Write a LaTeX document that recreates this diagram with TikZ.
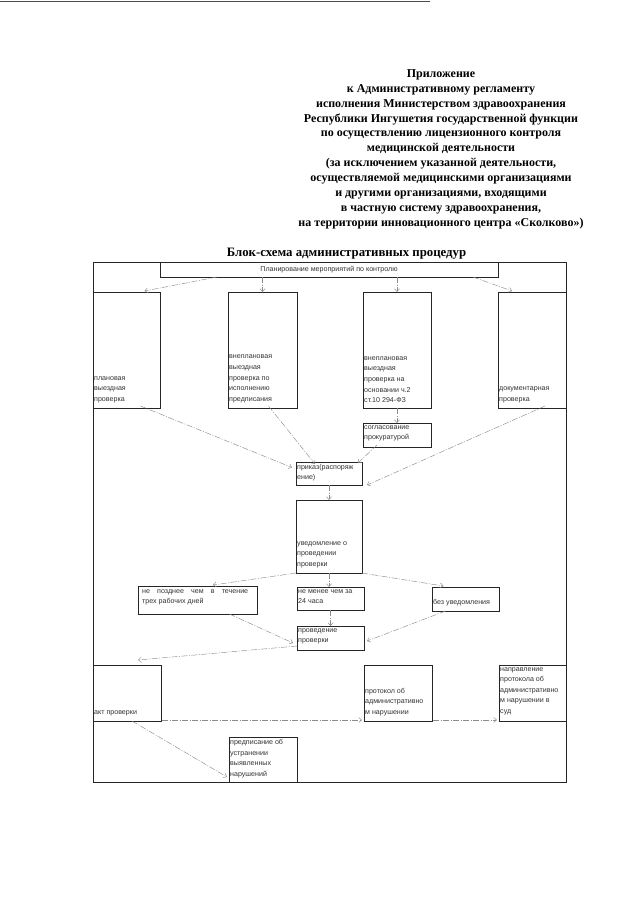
\documentclass[tikz,border=0pt]{standalone}
\usepackage{fontspec}
\setmainfont{Liberation Serif}
\newfontfamily\boxfont{Liberation Sans}
\usetikzlibrary{arrows.meta, calc}

\begin{document}
\begin{tikzpicture}[
  x=1pt, y=-1pt,
  >={Straight Barb[length=3pt, width=5pt]},
  box/.style={draw=black!85, line width=0.6pt, inner sep=0pt, outer sep=0pt},
  btext/.style={font=\boxfont\fontsize{7.1}{10.6}\selectfont, align=left,
    inner sep=1pt, text=black!80},
  flow/.style={->, draw=black!45, line width=0.45pt,
    dash pattern=on 6pt off 1.5pt on 1pt off 1.5pt},
]

% Page
\useasboundingbox (0,0) rectangle (640,905);
\fill[white] (0,0) rectangle (640,905);
\draw[black!70, line width=1pt] (0,1) -- (430,1);

% Title
\node[font=\fontsize{12}{14.9}\selectfont\bfseries, align=center, anchor=north]
  (title) at (441,66)
  {Приложение\\
   к Административному регламенту\\
   исполнения Министерством здравоохранения\\
   Республики Ингушетия государственной функции\\
   по осуществлению лицензионного контроля\\
   медицинской деятельности\\
   (за исключением указанной деятельности,\\
   осуществляемой медицинскими организациями\\
   и другими организациями, входящими\\
   в частную систему здравоохранения,\\
   на территории инновационного центра «Сколково»)};

\node[font=\fontsize{12.8}{14}\selectfont\bfseries] (head) at (346.5,254)
  {Блок-схема административных процедур};

% =============================================
% Frame and planning
% =============================================
\draw[black!85, line width=0.6pt] (93,262) rectangle (566,782);

\node[box, fill=white, minimum width=338pt, minimum height=15pt] (plan) at (329,269.5) {};
\node[btext] (plantxt) at (plan) {Планирование мероприятий по контролю};

% Kinds of inspection
\node[box, minimum width=67pt, minimum height=116pt] (plan1) at (126.5,350) {};
\node[box, minimum width=69pt, minimum height=116pt] (unpl1) at (262.5,350) {};
\node[box, minimum width=68pt, minimum height=116pt] (unpl2) at (397,350) {};
\node[box, minimum width=68pt, minimum height=116pt] (docs) at (532,350) {};

\node[btext, anchor=south west] (plan1txt) at ($(plan1.south west)+(0,-4)$)
  {плановая\\выездная\\проверка};
\node[btext, anchor=south west] (unpl1txt) at ($(unpl1.south west)+(0,-4)$)
  {внеплановая\\выездная\\проверка по\\исполнению\\предписания};
\node[btext, anchor=south west] (unpl2txt) at ($(unpl2.south west)+(0,-4)$)
  {внеплановая\\выездная\\проверка  на\\основании ч.2\\ст.10 294-ФЗ};
\node[btext, anchor=south west] (docstxt) at ($(docs.south west)+(0,-4)$)
  {документарная\\проверка};

\draw[flow] ($(plan.south west)+(57,0)$) -- ($(plan1.north)+(18,-1)$);
\draw[flow] (unpl1.north |- plan.south) -- (unpl1.north);
\draw[flow] (unpl2.north |- plan.south) -- (unpl2.north);
\draw[flow] ($(plan.south east)+(-25,0)$) -- ($(docs.north)+(-20,-1)$);

% Agreement with prosecutor
\node[box, minimum width=68pt, minimum height=24pt] (agree) at (397,435) {};
\node[btext, anchor=north west] (agreetxt) at ($(agree.north west)+(0,1)$)
  {согласование\\прокуратурой};
\draw[flow] (unpl2.south) -- (agree.north);

% =============================================
% Order and notification
% =============================================
\node[box, minimum width=66pt, minimum height=23pt] (order) at (329,473.5) {};
\node[btext, anchor=north west] (ordertxt) at ($(order.north west)+(0,1)$)
  {приказ(распоряж\\ение)};

\draw[flow] ($(plan1.south)+(14,-2)$) -- ($(order.west)+(-4,-6)$);
\draw[flow] ($(unpl1.south)+(6,-2)$) -- ($(order.north)+(-14,2)$);
\draw[flow] ($(agree.south)+(-20,-2)$) -- ($(order.north east)+(-4,1)$);
\draw[flow] ($(docs.south)+(13,-2)$) -- ($(order.south east)+(5,0)$);

\node[box, minimum width=66pt, minimum height=73pt] (notice) at (329,536.5) {};
\node[btext, anchor=south west] (noticetxt) at ($(notice.south west)+(0,-4)$)
  {уведомление о\\проведении\\проверки};
\draw[flow] (order.south) -- (notice.north);

% Notification terms
\node[box, minimum width=119pt, minimum height=28pt] (late) at (197.5,600) {};
\node[btext, anchor=north west] (latetxt) at ($(late.north west)+(3,2)$)
  {\makebox[106pt][s]{не позднее чем в течение}\\трех рабочих дней};
\node[box, minimum width=67pt, minimum height=23pt] (least) at (330.5,598.5) {};
\node[btext, anchor=north west] (leasttxt) at ($(least.north west)+(0,1)$)
  {не менее чем за\\24 часа};
\node[box, minimum width=67pt, minimum height=24pt] (nonote) at (465.5,599) {};
\node[btext, anchor=south west] (nonotetxt) at ($(nonote.south west)+(0,-4)$)
  {без уведомления};

\draw[flow] (notice.south west) -- ($(late.north)+(15.5,-1)$);
\draw[flow] (notice.south) -- (notice.south |- least.north);
\draw[flow] (notice.south east) -- ($(nonote.north)+(-22,-1)$);

% Carrying out
\node[box, minimum width=67pt, minimum height=24pt] (check) at (330.5,638) {};
\node[btext, anchor=north west] (checktxt) at ($(check.north west)+(0,1)$)
  {проведение\\проверки};

\draw[flow] ($(late.south)+(32,0)$) -- ($(check.west)+(-4,5)$);
\draw[flow] (check.north |- least.south) -- (check.north);
\draw[flow] ($(nonote.south)+(-20,0)$) -- ($(check.east)+(3,3)$);

% =============================================
% Results
% =============================================
\node[box, minimum width=68pt, minimum height=56pt] (act) at (127,693) {};
\node[btext, anchor=south west] (acttxt) at ($(act.south west)+(0,-4)$)
  {акт проверки};
\node[box, minimum width=68pt, minimum height=56pt] (report) at (398,693) {};
\node[btext, anchor=south west] (reporttxt) at ($(report.south west)+(0,-4)$)
  {протокол об\\административно\\м нарушении};
\node[box, minimum width=67pt, minimum height=56pt] (court) at (532.5,693) {};
\node[btext, anchor=north west] (courttxt) at ($(court.north west)+(0,1)$)
  {направление\\протокола об\\административно\\м нарушении в\\суд};
\node[box, minimum width=68pt, minimum height=45pt] (order2) at (263,759.5) {};
\node[btext, anchor=north west] (order2txt) at ($(order2.north west)+(0,1)$)
  {предписание об\\устранении\\выявленных\\нарушений};

\draw[flow] ($(check.south west)+(0,-4)$) -- ($(act.north)+(11,-5)$);
\draw[flow] ($(act.south east)+(1,-1)$) -- ($(report.south west)+(-2,-1)$);
\draw[flow] ($(report.south east)+(1,-1)$) -- ($(court.south west)+(-2,-1)$);
\draw[flow] ($(act.south)+(5,0)$) -- ($(order2.south west)+(-2,-5)$);

\end{tikzpicture}
\end{document}
